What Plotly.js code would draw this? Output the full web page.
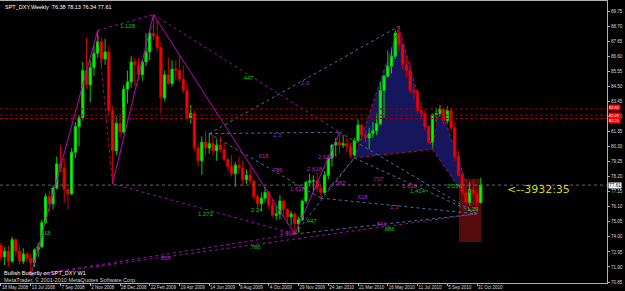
<!DOCTYPE html>
<html><head><meta charset="utf-8">
<script src="https://cdn.plot.ly/plotly-3.0.1.min.js"></script>
<style>html,body{margin:0;padding:0;background:#000;}#chart{width:625px;height:291px;}</style>
</head><body><div id="chart"></div>
<script>
// ---- data (weekly SPT_DXY, first bar week of 18 May 2008) ----
const firstWeek = '2008-05-18';
const open = [
73.4,72.6,73.0,72.3,73.8,73.0,72.3,72.8,72.5,72.2,
73.1,73.3,75.0,76.8,76.3,77.4,79.1,78.8,77.3,77.0,
79.9,81.7,82.3,85.6,84.6,85.8,86.8,87.6,86.4,86.9,
82.8,80.0,81.9,81.3,84.3,84.8,86.2,86.0,85.3,86.2,
86.9,88.2,88.0,87.2,83.7,85.3,84.7,85.7,85.6,85.0,
84.2,82.3,82.6,80.2,79.3,80.6,80.2,80.5,80.0,80.4,
80.1,79.4,78.9,78.4,79.0,78.8,78.0,78.3,77.9,76.8,
76.3,76.7,77.1,76.2,75.5,75.6,76.5,75.9,75.4,75.6,
74.9,75.2,76.5,77.8,77.9,77.9,77.4,77.1,78.3,79.5,
80.4,80.6,80.4,80.5,80.3,79.7,80.7,81.8,81.1,80.9,
81.2,81.4,81.9,84.2,85.2,85.9,86.6,88.2,87.4,86.0,
85.6,84.2,84.1,82.8,82.6,81.7,80.6,82.5,82.6,82.9,
82.1,82.8,81.6,79.6,78.3,77.1,76.4,77.3,77.0,76.38];
const high = [
73.6,73.3,73.4,74.0,73.9,73.4,73.2,73.0,72.8,73.2,
73.6,75.2,77.0,77.2,77.6,79.6,80.4,79.5,77.5,80.2,
82.0,82.5,86.2,87.9,86.3,87.4,88.4,87.9,87.8,87.3,
83.1,82.4,82.6,84.6,85.6,86.6,86.5,86.5,86.4,88.2,
88.5,89.5,89.1,87.6,85.6,86.5,86.3,86.3,86.6,86.0,
84.8,83.2,82.8,80.6,81.0,81.4,81.2,81.1,80.8,81.0,
80.6,79.5,79.7,79.2,79.6,79.3,78.7,78.9,78.0,77.0,
77.1,77.5,77.2,76.6,76.2,76.9,76.6,76.0,75.8,75.7,
75.4,76.6,77.9,78.4,78.3,78.5,77.6,78.6,79.6,80.5,
80.9,81.3,81.1,80.9,80.6,80.9,82.2,81.9,81.4,81.6,
82.0,82.6,84.8,85.3,87.0,87.2,88.4,88.7,87.5,86.6,
86.2,84.5,84.3,83.4,82.9,81.8,82.6,83.0,83.2,83.0,
83.1,83.0,82.0,80.0,78.6,77.5,77.8,78.0,77.3,78.13];
const low = [
72.3,72.0,71.9,72.2,72.7,72.1,72.1,72.2,71.3,71.9,
72.6,73.2,74.9,75.8,75.9,77.3,78.5,76.4,75.9,76.9,
79.5,80.3,82.1,84.3,83.4,85.2,86.5,85.8,86.0,82.4,
77.7,79.7,80.9,81.2,83.3,84.4,84.5,84.9,84.9,85.9,
86.3,87.7,86.9,82.6,83.5,84.6,84.5,84.9,84.8,84.0,
82.1,81.9,80.0,78.9,78.3,79.7,79.8,79.7,79.3,79.9,
79.3,78.5,78.2,77.5,78.4,77.6,77.7,77.7,76.6,76.0,
75.8,76.4,75.9,75.4,75.2,75.2,75.3,74.9,74.8,74.2,
74.3,75.1,76.3,77.5,77.1,77.1,76.8,77.0,78.0,78.9,
79.6,79.8,80.2,79.9,79.5,79.5,80.6,80.7,80.6,80.1,
80.9,81.1,81.8,82.3,85.1,85.4,86.4,86.9,85.7,85.1,
84.0,83.6,82.6,82.2,81.4,80.5,80.1,82.0,82.4,81.8,
81.9,81.4,79.3,78.2,76.9,76.1,76.2,76.8,75.6,76.34];
const close = [
72.6,73.0,72.3,73.8,73.0,72.3,72.8,72.5,72.2,73.1,
73.3,75.0,76.8,76.3,77.4,79.1,78.8,77.3,77.0,79.9,
81.7,82.3,85.6,84.6,85.8,86.8,87.6,86.4,86.9,82.8,
80.0,81.9,81.3,84.3,84.8,86.2,86.0,85.3,86.2,86.9,
88.2,88.0,87.2,83.7,85.3,84.7,85.7,85.6,85.0,84.2,
82.3,82.6,80.2,79.3,80.6,80.2,80.5,80.0,80.4,80.1,
79.4,78.9,78.4,79.0,78.8,78.0,78.3,77.9,76.8,76.3,
76.7,77.1,76.2,75.5,75.6,76.5,75.9,75.4,75.6,74.9,
75.2,76.5,77.8,77.9,77.9,77.4,77.1,78.3,79.5,80.4,
80.6,80.4,80.5,80.3,79.7,80.7,81.8,81.1,80.9,81.2,
81.4,81.9,84.2,85.2,85.9,86.6,88.2,87.4,86.0,85.6,
84.2,84.1,82.8,82.6,81.7,80.6,82.5,82.6,82.9,82.1,
82.8,81.6,79.6,78.3,77.1,76.4,77.3,77.0,76.38,77.61];

const xTickDates = ['2008-05-18','2008-07-13','2008-09-07','2008-11-02','2008-12-28','2009-02-22','2009-04-19','2009-06-14','2009-08-09','2009-10-04','2009-11-29','2010-01-24','2010-03-21','2010-05-16','2010-07-11','2010-09-05','2010-10-31'];
const xTickText  = ['18 May 2008','13 Jul 2008','7 Sep 2008','2 Nov 2008','28 Dec 2008','22 Feb 2009','19 Apr 2009','14 Jun 2009','9 Aug 2009','4 Oct 2009','29 Nov 2009','24 Jan 2010','21 Mar 2010','16 May 2010','11 Jul 2010','5 Sep 2010','31 Oct 2010'];
const yTickVals = [70.85,71.90,72.95,74.00,75.05,76.10,77.15,78.20,79.25,80.30,81.35,82.40,83.45,84.50,85.55,86.60,87.65,88.70,89.75];
const yTickText = ['70.85','71.90','72.95','74.00','75.05','76.10','77.15','78.20','79.25','80.30','81.35','82.40','83.45','84.50','85.55','86.60','87.65','88.70','89.75'];

// swing points of the harmonic drawing
const pivotNames  = ['Pa','Pb','Pc','Pd','Pe','Pf','Pg','Ph','Pi','Pj','Pk','Pl','Pm'];
const pivotDates  = ['2008-07-13','2008-11-16','2008-12-14','2009-03-01','2009-06-14','2009-11-22','2010-01-10','2010-02-14','2010-03-14','2010-06-06','2010-08-08','2010-08-22','2010-10-31'];
const pivotValues = [71.3,88.4,77.7,89.5,81.2,74.2,76.7,81.3,79.5,88.7,80.1,83.2,75.6];

const solidLegs  = [['Pa','Pb'],['Pc','Pd'],['Pd','Pf'],['Pf','Ph']];
const redLegs    = [['Pb','Pc'],['Pi','Pj'],['Pj','Pk'],['Pi','Pk'],['Pk','Pl'],['Pl','Pm'],['Pk','Pm']];
const purpleDots = [['Pb','Pd'],['Pd','Ph'],['Pa','Pm'],['Pc','Pf'],['Pa','Pf']];
const blueDots   = [['Pe','Pj'],['Pe','Ph'],['Pe','Pg'],['Pf','Pm'],['Pg','Pm'],['Pi','Pm'],['Pf','Pi'],['Ph','Pm'],['Pg','Pi']];
const hatchTriangles = [['Pi','Pj','Pk'],['Pk','Pl','Pm']];

const levelValues = [82.92,82.49,82.25];
const lastPrice = 77.61;
const zoneDates = ['2010-09-27','2010-11-08'];
const zoneValues = [73.64,78.04];

const labelTexts  = ['1.128','.447','2.0','1.3','.618','.786','2.618','2.618','1.618','2.24','1.272','.447','1.414','.786','.382','.618','.707','1.618','1.414','2.236','1.3','.841','.886','1.29','.618','.854'];
const labelDates  = ['2009-01-12','2009-08-26','2009-12-12','2009-10-21','2009-09-23','2009-10-19','2010-01-20','2009-12-30','2009-11-28','2009-09-12','2009-06-08','2009-12-23','2009-11-09','2009-09-08','2010-02-15','2010-03-29','2010-04-28','2010-06-27','2010-07-12','2010-09-20','2010-05-29','2010-05-03','2010-05-18','2010-10-23','2008-08-09','2009-03-23'];
const labelValues = [88.70,85.08,84.73,81.10,79.64,78.66,79.57,78.73,77.34,75.87,75.59,75.11,74.27,73.29,77.76,76.78,78.03,77.55,77.20,77.55,76.08,74.90,74.52,75.94,74.27,72.53];
const labelKinds  = ['g','g','p','p','p','p','p','p','p','g','g','g','p','g','p','p','p','p','g','g','p','p','g','g','g','p'];
const timerText = '<--3932:35';
const timerDate = '2010-12-22';
const timerValue = 77.27;

// ---- build ----
function weekDates(start, n){
  const out=[]; const t0=Date.parse(start+'T00:00:00Z');
  for(let i=0;i<n;i++){ out.push(new Date(t0+i*7*86400000).toISOString().slice(0,10)); }
  return out;
}
const dates = weekDates(firstWeek, close.length);
const P = {}; pivotNames.forEach((n,i)=>{P[n]={x:pivotDates[i],y:pivotValues[i]};});

function legTrace(legs, color, dash, width){
  const xs=[], ys=[];
  legs.forEach(([a,b])=>{ xs.push(P[a].x,P[b].x,null); ys.push(P[a].y,P[b].y,null); });
  return {type:'scatter',mode:'lines',x:xs,y:ys,line:{color:color,dash:dash,width:width},hoverinfo:'skip',showlegend:false};
}

const traces = [
  {type:'candlestick',x:dates,open:open,high:high,low:low,close:close,
   increasing:{line:{color:'#00d000',width:1},fillcolor:'#00ff00'},
   decreasing:{line:{color:'#d00000',width:1},fillcolor:'#ff0000'},
   whiskerwidth:0,hoverinfo:'skip',showlegend:false},
  legTrace(blueDots,'#4d6f9f','dot',1),
  legTrace(purpleDots,'#9a10a8','dot',1),
  legTrace(solidLegs,'#c000c0','solid',1),
  legTrace(redLegs,'#a8104a','dot',1),
];

const shapes = [];
hatchTriangles.forEach(tri=>{
  const p = tri.map(n=>P[n]);
  shapes.push({type:'path',xref:'x',yref:'y',layer:'below',
    path:`M ${p[0].x},${p[0].y} L ${p[1].x},${p[1].y} L ${p[2].x},${p[2].y} Z`,
    fillcolor:'rgba(40,40,170,0.55)',line:{width:0}});
});
shapes.push({type:'rect',xref:'x',yref:'y',layer:'below',x0:zoneDates[0],x1:zoneDates[1],y0:zoneValues[0],y1:zoneValues[1],
  fillcolor:'#560b0b',line:{width:0}});
levelValues.forEach(v=>shapes.push({type:'line',xref:'paper',yref:'y',x0:0,x1:1,y0:v,y1:v,line:{color:'#9a0000',width:1,dash:'3px,2px'}}));
shapes.push({type:'line',xref:'paper',yref:'y',x0:0,x1:1,y0:lastPrice,y1:lastPrice,line:{color:'#6a6a6a',width:1,dash:'dot'}});

const annotations = [];
labelTexts.forEach((t,i)=>annotations.push({x:labelDates[i],y:labelValues[i],xref:'x',yref:'y',text:t,showarrow:false,
  font:{family:'Liberation Sans',size:6,color:labelKinds[i]==='g'?'#00c800':'#b424c8'}}));
annotations.push({x:timerDate,y:timerValue,xref:'x',yref:'y',xanchor:'left',text:timerText,showarrow:false,
  font:{family:'DejaVu Sans',size:11,color:'#d8d800'}});
const levelShift = [1.5,0,-1.5];
levelValues.forEach((v,i)=>annotations.push({x:1,y:v,xref:'paper',yref:'y',xanchor:'left',xshift:1,yshift:levelShift[i],text:v.toFixed(2),showarrow:false,
  bgcolor:'#ff0000',borderpad:0,font:{family:'Liberation Sans',size:4,color:'#ffffff'}}));
annotations.push({x:1,y:lastPrice,xref:'paper',yref:'y',xanchor:'left',xshift:1,text:lastPrice.toFixed(2),showarrow:false,
  bgcolor:'#ffffff',borderpad:0,font:{family:'Liberation Sans',size:4.8,color:'#000000'}});
annotations.push({x:0,y:1,xref:'paper',yref:'paper',xanchor:'left',yanchor:'top',xshift:3,yshift:-1,showarrow:false,
  text:'SPT_DXY,Weekly  '+[open[open.length-1],high[high.length-1],low[low.length-1],close[close.length-1]].map(v=>v.toFixed(2)).join(' '),
  font:{family:'Liberation Sans',size:5.5,color:'#ffffff'}});
annotations.push({x:0,y:0.035,xref:'paper',yref:'paper',xanchor:'left',yanchor:'middle',xshift:2,showarrow:false,
  text:'Bullish Butterfly on SPT_DXY W1',font:{family:'Liberation Sans',size:5.5,color:'#ffffff'}});
annotations.push({x:0,y:0.012,xref:'paper',yref:'paper',xanchor:'left',yanchor:'middle',xshift:2,showarrow:false,
  text:'MetaTrader, © 2001-2010 MetaQuotes Software Corp.',font:{family:'Liberation Sans',size:5.5,color:'#d0d0d0'}});

const layout = {
  width:625,height:291,paper_bgcolor:'#000000',plot_bgcolor:'#000000',
  margin:{l:0,r:18,t:1,b:8},showlegend:false,hovermode:false,dragmode:false,boxgap:0.15,
  xaxis:{type:'date',range:['2008-05-16 03:30','2011-07-02 14:00'],rangeslider:{visible:false},
    tickmode:'array',tickvals:xTickDates,ticktext:xTickText,tickangle:0,
    ticklabelposition:'outside right',ticks:'outside',ticklen:2,tickcolor:'#b0b0b0',
    showgrid:false,zeroline:false,showline:true,mirror:true,linecolor:'#b0b0b0',linewidth:1,
    tickfont:{family:'Liberation Sans',size:4.5,color:'#d8d8d8'},automargin:false},
  yaxis:{side:'right',range:[70.78,90.45],tickmode:'array',tickvals:yTickVals,ticktext:yTickText,
    ticks:'outside',ticklen:2,tickcolor:'#b0b0b0',showgrid:false,zeroline:false,showline:true,linecolor:'#b0b0b0',linewidth:1,
    tickfont:{family:'Liberation Sans',size:4.6,color:'#d8d8d8'},automargin:false},
  shapes:shapes,annotations:annotations
};
Plotly.newPlot('chart',traces,layout,{staticPlot:true,displayModeBar:false});
</script></body></html>
